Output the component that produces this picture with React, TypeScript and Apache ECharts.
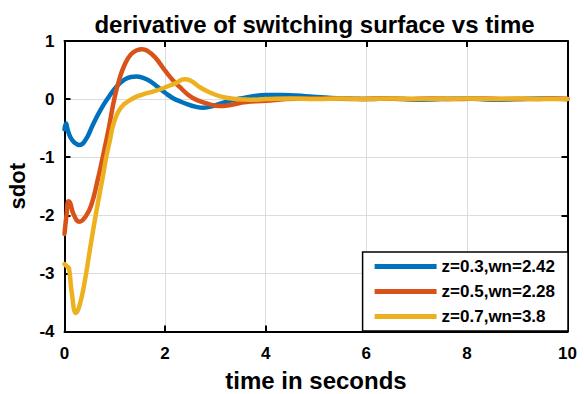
import React, { useEffect, useRef } from "react";
import * as echarts from "echarts";

const FONT = "'Liberation Sans', Arial, Helvetica, sans-serif";

const titleText = "derivative of switching surface vs time";
const xName = "time in seconds";
const yName = "sdot";

const seriesNames = ["z=0.3,wn=2.42", "z=0.5,wn=2.28", "z=0.7,wn=3.8"];
const seriesColors = ["#0072BD", "#D95319", "#EDB120"];

const xMin = 0, xMax = 10, xStep = 2;
const yMin = -4, yMax = 1, yStep = 1;

const blueT = [0, 0.03, 0.06, 0.12, 0.2, 0.3, 0.42, 0.56, 0.72, 0.89, 1.05, 1.2, 1.32, 1.43, 1.55, 1.7, 1.85, 2.0, 2.15, 2.3, 2.45, 2.6, 2.75, 2.9, 3.05, 3.28, 3.5, 3.75, 4.0, 4.3, 4.6, 4.94, 5.3, 5.7, 6.0, 6.5, 7.0, 7.5, 8.0, 8.5, 9.0, 9.5, 10];
const blueY = [-0.52, -0.42, -0.52, -0.66, -0.75, -0.79, -0.7, -0.45, -0.18, 0.05, 0.23, 0.34, 0.38, 0.39, 0.37, 0.31, 0.21, 0.11, 0.02, -0.04, -0.09, -0.13, -0.15, -0.13, -0.09, -0.03, 0.01, 0.05, 0.07, 0.07, 0.06, 0.04, 0.02, 0.01, 0.0, 0.01, -0.01, 0.0, 0.01, -0.01, 0.0, 0.01, 0.0];

const orangeT = [0, 0.04, 0.08, 0.11, 0.18, 0.3, 0.42, 0.53, 0.66, 0.76, 0.88, 0.99, 1.09, 1.2, 1.32, 1.44, 1.54, 1.65, 1.8, 2.0, 2.15, 2.3, 2.45, 2.55, 2.7, 2.89, 3.08, 3.3, 3.61, 4.0, 4.4, 4.8, 5.3, 5.8, 6.3, 6.8, 7.3, 7.8, 8.3, 8.8, 9.3, 9.8, 10];
const orangeY = [-2.32, -2.0, -1.76, -1.78, -1.98, -2.11, -2.02, -1.83, -1.39, -1.0, -0.5, 0.0, 0.34, 0.6, 0.77, 0.84, 0.86, 0.83, 0.72, 0.49, 0.33, 0.2, 0.08, 0.02, -0.04, -0.09, -0.12, -0.1, -0.05, -0.03, 0.0, 0.01, 0.01, 0.0, 0.01, 0.0, 0.01, 0.0, 0.01, 0.0, 0.0, 0.01, 0.0];

const yellowT = [0, 0.05, 0.09, 0.14, 0.23, 0.3, 0.4, 0.5, 0.6, 0.7, 0.75, 0.83, 0.9, 0.96, 1.05, 1.15, 1.23, 1.4, 1.56, 1.8, 2.0, 2.2, 2.39, 2.5, 2.7, 2.9, 3.08, 3.25, 3.42, 3.7, 4.0, 4.5, 5.0, 5.5, 6.0, 6.5, 7.0, 7.5, 8.0, 8.5, 9.0, 9.5, 10];
const yellowY = [-2.84, -2.88, -2.92, -3.3, -3.68, -3.55, -3.15, -2.62, -2.1, -1.62, -1.39, -1.0, -0.72, -0.47, -0.25, -0.12, -0.06, 0.03, 0.08, 0.14, 0.2, 0.27, 0.34, 0.32, 0.2, 0.11, 0.05, 0.02, 0.0, -0.01, 0.0, 0.01, 0.0, 0.01, 0.0, 0.01, 0.0, 0.0, 0.01, 0.0, 0.01, 0.0, 0.0];

const seriesT = [blueT, orangeT, yellowT];
const seriesY = [blueY, orangeY, yellowY];

function pairs(t: number[], y: number[]) {
  return t.map((v, i) => [v, y[i]]);
}

const black = "#000";
const lineBlack = { color: black, width: 2 };
const labelStyle = { fontSize: 17, fontWeight: "bold" as const, color: black, fontFamily: FONT };

export default function App() {
  const ref = useRef<HTMLDivElement>(null);
  useEffect(() => {
    const chart = echarts.init(ref.current!, null, { renderer: "svg" });
    chart.setOption({
      animation: false,
      backgroundColor: "#fff",
      textStyle: { fontFamily: FONT },
      title: {
        text: titleText,
        left: 309.5,
        textAlign: "center",
        top: 7,
        textStyle: { fontSize: 24, fontWeight: "bold", color: black, fontFamily: FONT },
      },
      grid: { left: 64.5, right: 16.5, top: 41, bottom: 62.5, outerBoundsMode: "none", containLabel: false },
      legend: {
        data: seriesNames,
        orient: "vertical",
        right: 16,
        bottom: 63,
        padding: [6, 13, 6, 12],
        itemGap: 8,
        itemWidth: 62,
        itemHeight: 5,
        icon: "rect",
        backgroundColor: "#fff",
        borderColor: black,
        borderWidth: 1.5,
        borderRadius: 0,
        textStyle: { fontSize: 17, fontWeight: "bold", color: black, fontFamily: FONT },
      },
      xAxis: [
        {
          type: "value",
          min: xMin,
          max: xMax,
          interval: xStep,
          position: "bottom",
          name: xName,
          nameLocation: "middle",
          nameGap: 37,
          nameTextStyle: { fontSize: 24, fontWeight: "bold", color: black, fontFamily: FONT },
          axisLine: { show: true, onZero: false, lineStyle: lineBlack },
          axisTick: { show: true, inside: true, length: 6, lineStyle: lineBlack },
          axisLabel: { ...labelStyle, margin: 13 },
          splitLine: { show: true, lineStyle: { color: "#dcdcdc", width: 1 } },
        },
        {
          type: "value",
          min: xMin,
          max: xMax,
          interval: xStep,
          position: "top",
          axisLine: { show: true, onZero: false, lineStyle: lineBlack },
          axisTick: { show: true, inside: true, length: 6, lineStyle: lineBlack },
          axisLabel: { show: false },
          splitLine: { show: false },
        },
      ],
      yAxis: [
        {
          type: "value",
          min: yMin,
          max: yMax,
          interval: yStep,
          position: "left",
          name: yName,
          nameLocation: "middle",
          nameGap: 36,
          nameTextStyle: { fontSize: 22, fontWeight: "bold", color: black, fontFamily: FONT },
          axisLine: { show: true, onZero: false, lineStyle: lineBlack },
          axisTick: { show: true, inside: true, length: 6, lineStyle: lineBlack },
          axisLabel: { ...labelStyle, margin: 10 },
          splitLine: { show: true, lineStyle: { color: "#dcdcdc", width: 1 } },
        },
        {
          type: "value",
          min: yMin,
          max: yMax,
          interval: yStep,
          position: "right",
          axisLine: { show: true, onZero: false, lineStyle: lineBlack },
          axisTick: { show: true, inside: true, length: 6, lineStyle: lineBlack },
          axisLabel: { show: false },
          splitLine: { show: false },
        },
      ],
      series: seriesNames.map((name, i) => ({
        name,
        type: "line",
        xAxisIndex: 0,
        yAxisIndex: 0,
        data: pairs(seriesT[i], seriesY[i]),
        showSymbol: false,
        smooth: 0.5,
        lineStyle: { width: 4.5, color: seriesColors[i], cap: "round", join: "round" },
        itemStyle: { color: seriesColors[i] },
        emphasis: { disabled: true },
        z: 2 + i,
      })),
    });
    return () => chart.dispose();
  }, []);
  return <div ref={ref} style={{ position: "absolute", left: 0, top: 0, width: 584, height: 394 }} />;
}
